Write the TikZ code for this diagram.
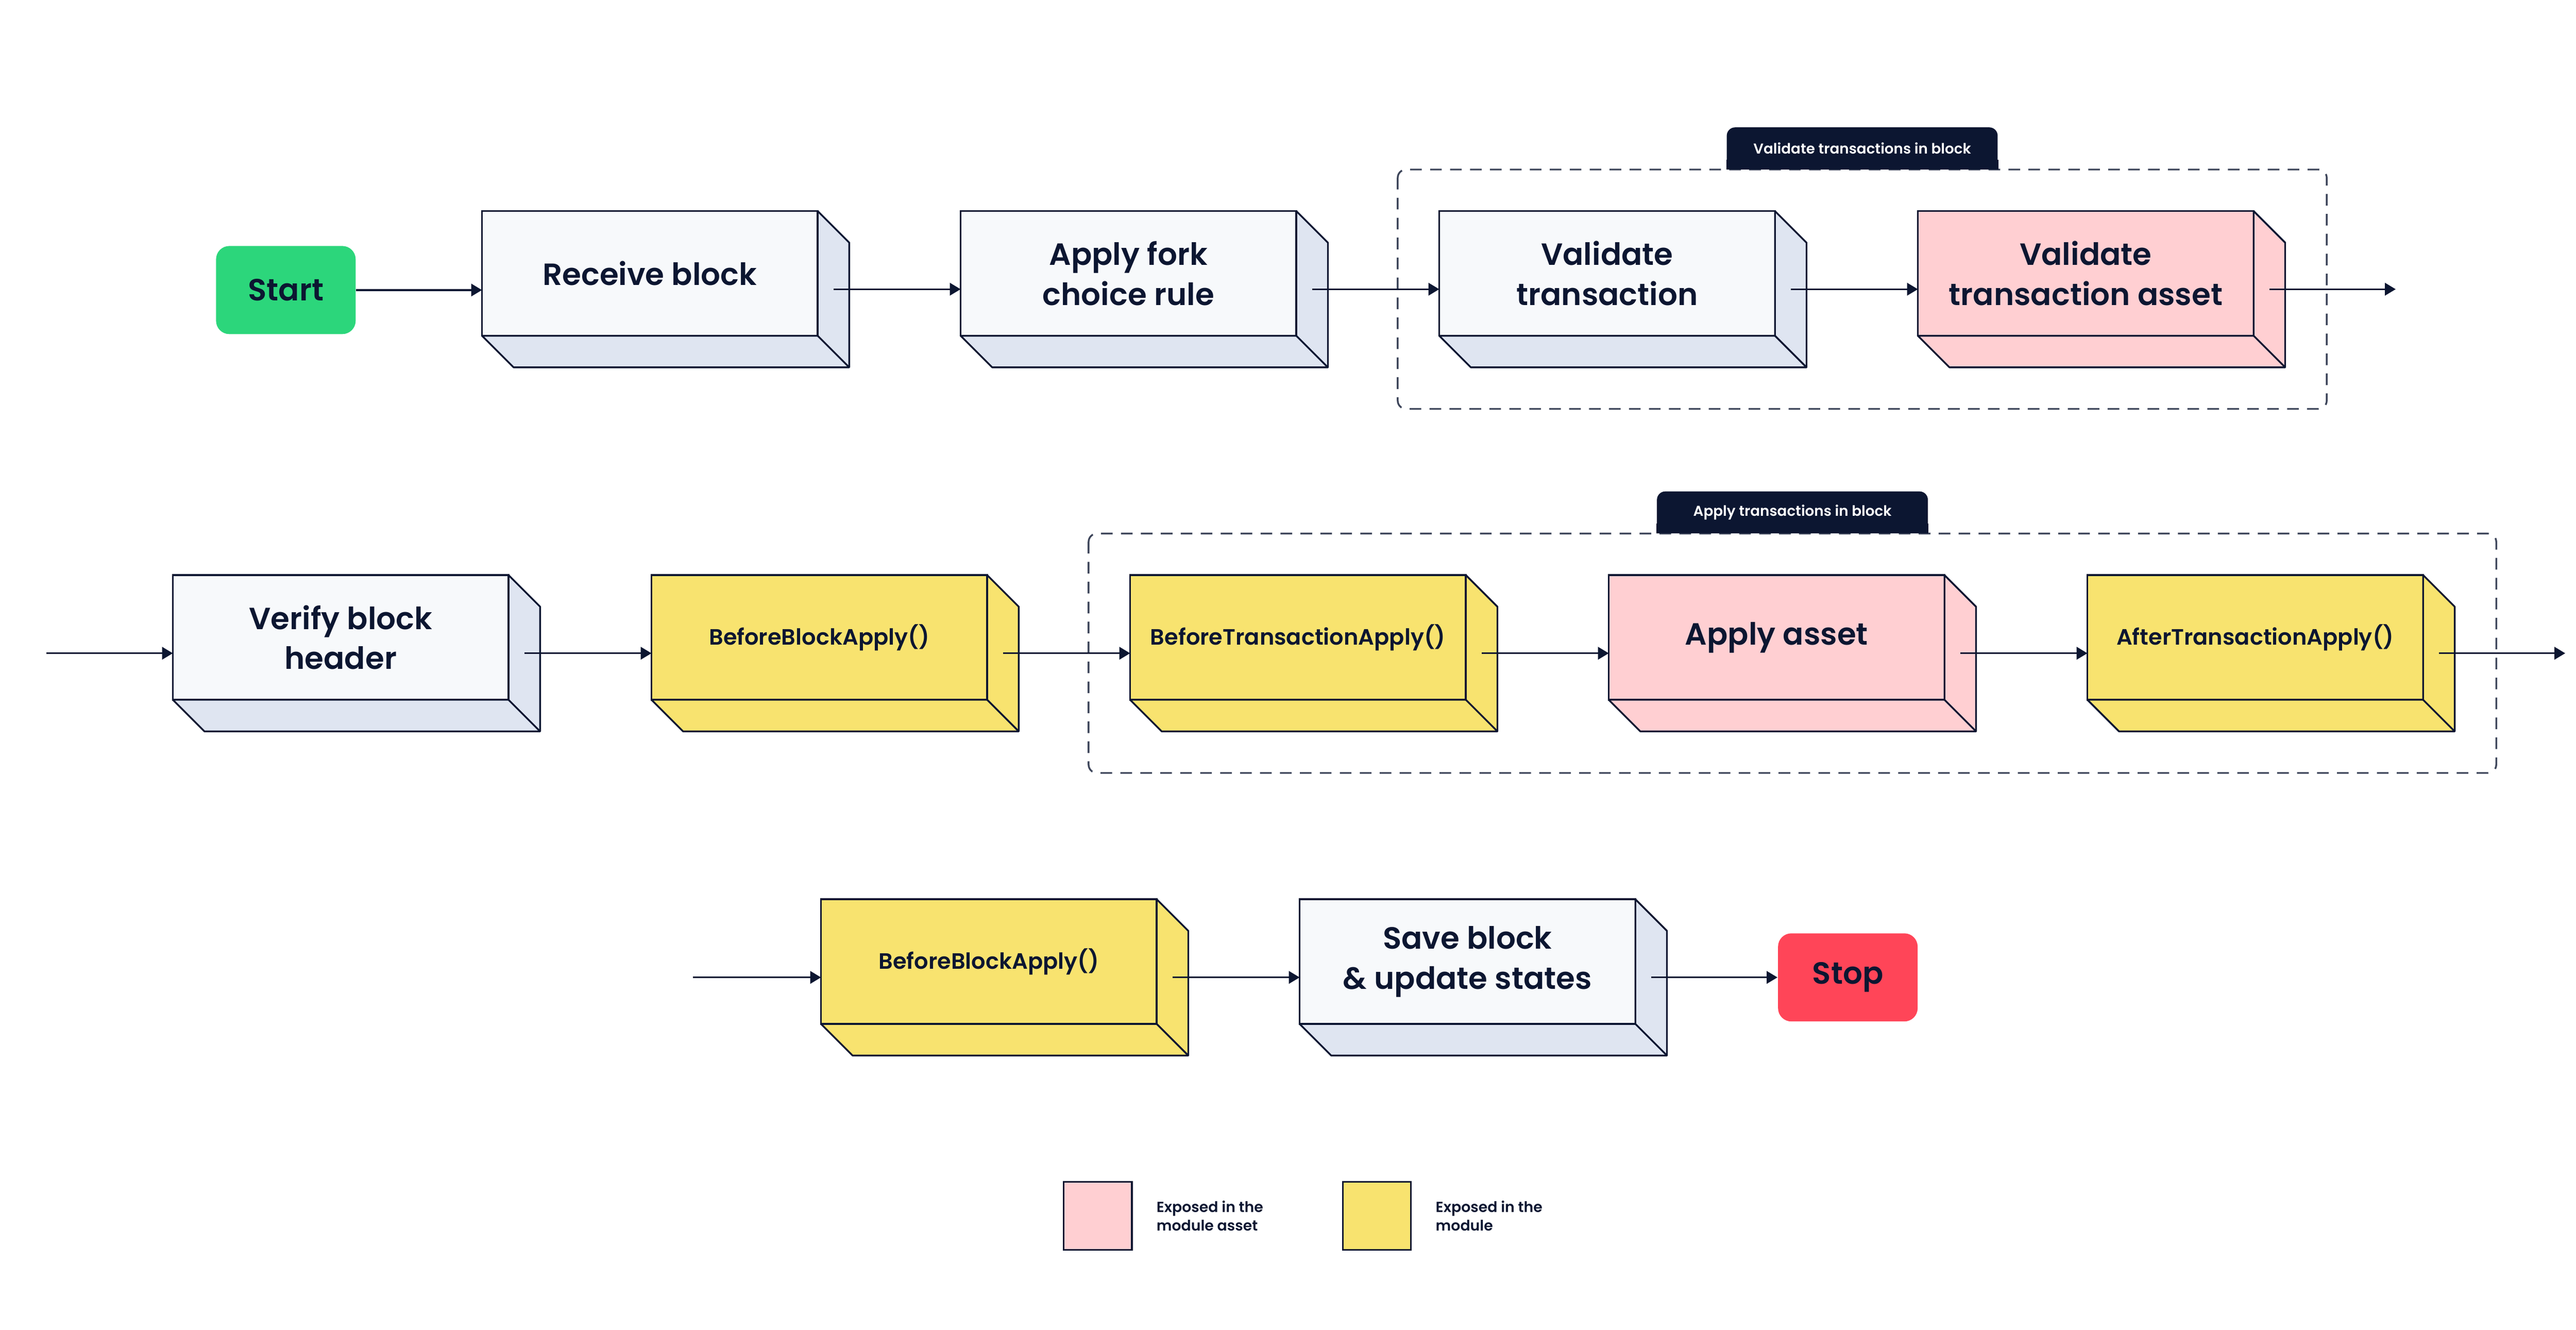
\documentclass[tikz,border=0pt]{standalone}
\usepackage{fontspec}
\setmainfont{Poppins}[BoldFont={Poppins SemiBold}]
\usepackage{tikz}
\usetikzlibrary{positioning,arrows.meta,calc}

\definecolor{navy}{HTML}{0C1631}
\definecolor{slabfront}{HTML}{F7F9FB}
\definecolor{slabside}{HTML}{DFE5F1}
\definecolor{assetpink}{HTML}{FFCFD2}
\definecolor{moduleyellow}{HTML}{F8E36F}
\definecolor{startgreen}{HTML}{2CD67B}
\definecolor{stopred}{HTML}{FF4558}

\newcommand{\slabd}{0.38cm}
% depth faces of a slab: node name, colour
\newcommand{\slabdepth}[2]{%
  \draw[navy, line width=0.6pt, line join=round, fill=#2]
    (#1.north east) -- ++(\slabd,-\slabd) -- ([shift={(\slabd,-\slabd)}]#1.south east)
    -- ([shift={(\slabd,-\slabd)}]#1.south west) -- (#1.south west) -- (#1.south east) -- cycle;
  \draw[navy, line width=0.6pt] (#1.south east) -- ++(\slabd,-\slabd);
}
% connector from one slab to the next
\newcommand{\link}[2]{%
  \draw[flow] ([shift={(\slabd/2,-\slabd/2)}]#1.east) -- ([yshift=-\slabd/2]#2.west);
}

\begin{document}
\begin{tikzpicture}[
  slab/.style={draw=navy, line width=0.6pt, fill=slabfront, minimum width=4.04cm,
    minimum height=1.5cm, inner sep=0pt, outer sep=0pt, align=center, text=navy,
    font=\fontsize{10.5}{13.7}\selectfont\bfseries},
  hook/.style={slab, fill=moduleyellow, font=\fontsize{7.6}{9}\selectfont\bfseries},
  asset/.style={slab, fill=assetpink},
  term/.style={rounded corners=0.16cm, minimum width=1.68cm, minimum height=1.06cm,
    inner sep=0pt, text=navy, font=\fontsize{10.5}{12}\selectfont\bfseries},
  flow/.style={-{Triangle[length=0.13cm,width=0.15cm]}, navy, line width=0.6pt},
  group/.style={draw=navy!80, line width=0.6pt, dash pattern=on 0.14cm off 0.1cm,
    rounded corners=0.1cm},
  tab/.style={fill=navy, rounded corners=0.1cm, minimum width=3.26cm, minimum height=0.5cm,
    inner sep=0pt, text=white, font=\fontsize{4.9}{5.5}\selectfont\bfseries},
  swatch/.style={draw=navy, line width=0.6pt, minimum size=0.82cm, inner sep=0pt},
  keytext/.style={align=left, inner sep=0pt, text=navy, font=\fontsize{5}{6.3}\selectfont\bfseries}
]
  \useasboundingbox (0,0) rectangle (31,16);

  % Row 1: receive and validate
  \node[term, fill=startgreen] (start) at (3.44,12.51) {Start};
  \node[slab] (recv) at (7.82,12.71) {Receive block};
  \node[slab, right=1.72cm of recv] (fork) {Apply fork\\choice rule};
  \node[slab, right=1.72cm of fork] (vtx) {Validate\\transaction};
  \node[asset, right=1.72cm of vtx] (vasset) {Validate\\transaction asset};

  \coordinate (g1a) at ([shift={(-0.5,0.5)}]vtx.north west);
  \coordinate (g1b) at ([shift={(\slabd+0.5cm,-\slabd-0.5cm)}]vasset.south east);
  \draw[group] (g1a) rectangle (g1b);
  \node[tab, anchor=south] (tab1) at ($(g1a)!0.5!(g1a -| g1b)$) {Validate transactions in block};
  \fill[navy] (tab1.south west) rectangle ([yshift=0.12cm]tab1.south east);

  \slabdepth{recv}{slabside}
  \slabdepth{fork}{slabside}
  \slabdepth{vtx}{slabside}
  \slabdepth{vasset}{assetpink}

  \draw[flow] (start.east) -- (start.east -| recv.west);
  \link{recv}{fork}
  \link{fork}{vtx}
  \link{vtx}{vasset}
  \coordinate (out1) at ([shift={(\slabd/2+1.52cm,-\slabd/2)}]vasset.east);
  \draw[flow] ([shift={(\slabd/2,-\slabd/2)}]vasset.east) -- (out1);

  % Row 2: header and transactions
  \node[slab] (vhdr) at (4.10,8.33) {Verify block\\header};
  \node[hook, right=1.72cm of vhdr] (bba1) {BeforeBlockApply()};
  \node[hook, right=1.72cm of bba1] (bta) {BeforeTransactionApply()};
  \node[asset, right=1.72cm of bta] (aasset) {Apply asset};
  \node[hook, right=1.72cm of aasset] (ata) {AfterTransactionApply()};

  \coordinate (g2a) at ([shift={(-0.5,0.5)}]bta.north west);
  \coordinate (g2b) at ([shift={(\slabd+0.5cm,-\slabd-0.5cm)}]ata.south east);
  \draw[group] (g2a) rectangle (g2b);
  \node[tab, anchor=south] (tab2) at ($(g2a)!0.5!(g2a -| g2b)$) {Apply transactions in block};
  \fill[navy] (tab2.south west) rectangle ([yshift=0.12cm]tab2.south east);

  \slabdepth{vhdr}{slabside}
  \slabdepth{bba1}{moduleyellow}
  \slabdepth{bta}{moduleyellow}
  \slabdepth{aasset}{assetpink}
  \slabdepth{ata}{moduleyellow}

  \coordinate (in2) at ([shift={(-1.52cm,-\slabd/2)}]vhdr.west);
  \draw[flow] (in2) -- (in2 -| vhdr.west);
  \link{vhdr}{bba1}
  \link{bba1}{bta}
  \link{bta}{aasset}
  \link{aasset}{ata}
  \coordinate (out2) at ([shift={(\slabd/2+1.52cm,-\slabd/2)}]ata.east);
  \draw[flow] ([shift={(\slabd/2,-\slabd/2)}]ata.east) -- (out2);

  % Row 3: finish
  \node[hook] (bba2) at (11.90,4.43) {BeforeBlockApply()};
  \node[slab, right=1.72cm of bba2] (save) {Save block\\\& update states};
  \node[term, fill=stopred, anchor=west] (stop) at ([shift={(\slabd/2+1.52cm,-\slabd/2)}]save.east) {Stop};

  \slabdepth{bba2}{moduleyellow}
  \slabdepth{save}{slabside}

  \coordinate (in3) at ([shift={(-1.54cm,-\slabd/2)}]bba2.west);
  \draw[flow] (in3) -- (in3 -| bba2.west);
  \link{bba2}{save}
  \draw[flow] ([shift={(\slabd/2,-\slabd/2)}]save.east) -- (stop.west);

  % Legend
  \node[swatch, fill=assetpink] (keyasset) at (13.21,1.37) {};
  \node[keytext, right=0.28cm of keyasset] (keyassettext) {Exposed in the\\module asset};
  \node[swatch, fill=moduleyellow] (keymodule) at (16.57,1.37) {};
  \node[keytext, right=0.28cm of keymodule] (keymoduletext) {Exposed in the\\module};
\end{tikzpicture}
\end{document}
